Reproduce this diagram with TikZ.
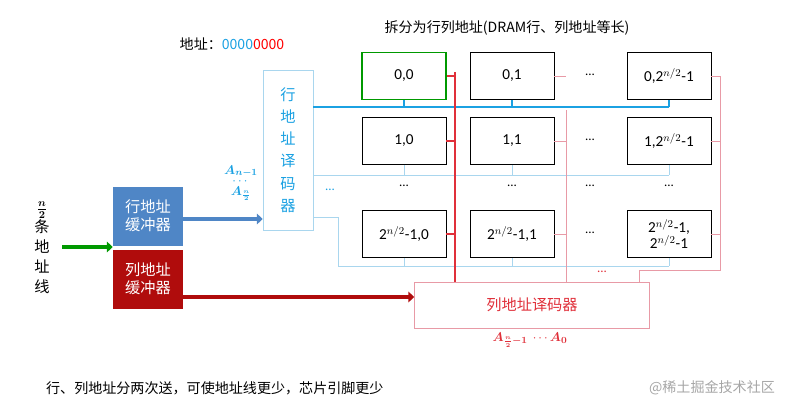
\documentclass[tikz,border=0pt]{standalone}
\usepackage{amsmath}
\usepackage{bm}
\usepackage{fontspec}
\setmainfont{Carlito}
\newfontfamily\cjk{Noto Sans CJK SC}
\usetikzlibrary{positioning,calc,arrows.meta}
\definecolor{rowblue}{HTML}{1BA1E2}
\definecolor{bufblue}{HTML}{4F86C6}
\definecolor{bufred}{HTML}{B00C0C}
\definecolor{colred}{HTML}{E0303A}
\definecolor{thinred}{HTML}{E89AA6}
\definecolor{thinblue}{HTML}{A9D6EE}

\begin{document}
\begin{tikzpicture}[x=0.03cm, y=-0.03cm,
    cell/.style={draw, thick, minimum width=84*0.03cm, minimum height=47*0.03cm, font=\fontsize{13}{15}\selectfont},
    buf/.style={minimum width=70*0.03cm, minimum height=59*0.03cm, text=white, align=center, font=\cjk\fontsize{13}{15}\selectfont},
    dots/.style={font=\fontsize{11}{12}\selectfont}
  ]
\useasboundingbox (0,0) rectangle (799,413);

% Titles
\node (addr) at (232,44) {\cjk\fontsize{12}{14}\selectfont 地址：\textcolor{rowblue}{0000}\textcolor{red}{0000}};
\node (title) at (507,28) {\cjk\fontsize{12}{14}\selectfont 拆分为行列地址(DRAM行、列地址等长)};

% Memory cells
\node[cell, draw=green!60!black, line width=1.6pt] (c00) at (404,76) {0,0};
\node[cell] (c01) at (512,76) {0,1};
\node[cell] (c0n) at (669,76) {0,2$^{n/2}$-1};
\node[cell] (c10) at (404,141) {1,0};
\node[cell] (c11) at (512,141) {1,1};
\node[cell] (c1n) at (669,141) {1,2$^{n/2}$-1};
\node[cell] (c30) at (404,234) {2$^{n/2}$-1,0};
\node[cell] (c31) at (512,234) {2$^{n/2}$-1,1};
\node[cell, align=center, font=\fontsize{13}{13}\selectfont] (c3n) at (669,234) {2$^{n/2}$-1,\\2$^{n/2}$-1};
\foreach \x/\n in {404/a, 512/b, 669/c} \node[dots] (rd\n) at (\x,186) {...};
\foreach \y/\n in {75/a, 140/b, 186/c, 233/d} \node[dots] (cd\n) at (590,\y) {...};

% Decoders and buffers
\node[draw=thinblue, minimum width=50*0.03cm, minimum height=160*0.03cm, text=rowblue, align=center,
  font=\cjk\fontsize{13}{19}\selectfont] (rdec) at (288,150) {行\\地\\址\\译\\码\\器};
\node[draw=thinred, minimum width=235*0.03cm, minimum height=46*0.03cm, text=colred,
  font=\cjk\fontsize{13}{15}\selectfont] (cdec) at (532,305) {列地址译码器};
\node[buf, fill=bufblue] (rbuf) at (148,216) {行地址\\缓冲器};
\node[buf, fill=bufred] (cbuf) at (148,279) {列地址\\缓冲器};
\node[align=center, font=\cjk\fontsize{13}{17}\selectfont] (lines) at (42,248) {$\bm{\frac{n}{2}}$\\条\\地\\址\\线};

% Labels
\node[text=rowblue, align=center, font=\fontsize{11}{11}\selectfont] (alab) at (241,183) {$\bm{A_{n-1}}$\\[-2pt]$\cdots$\\[-2pt]$\bm{A_{\frac{n}{2}}}$};
\node[text=colred, font=\fontsize{11}{12}\selectfont] (clab) at (530,340) {$\bm{A_{\frac{n}{2}-1}}\ \cdots\bm{A_0}$};
\node[dots, text=rowblue] (rdots) at (330,190) {...};
\node[dots, text=colred] (cdots) at (602,272) {...};

% Arrows
\draw[green!60!black, line width=4pt, -{Triangle[length=5pt, width=9pt]}] (62,247) -- (rbuf.west |- 0,247);
\draw[bufblue, line width=4pt, -{Triangle[length=5pt, width=9pt]}] (rbuf.east |- 0,219) -- (rdec.west |- 0,219);
\draw[bufred, line width=4pt, -{Triangle[length=5pt, width=9pt]}] (cbuf.east |- 0,297) -- (cdec.west |- 0,297);

% Row select lines
\coordinate (rb0) at (rdec.east |- 0,107);
\draw[rowblue, line width=2pt] (rb0) -- (c0n.south |- rb0);
\foreach \c in {c00, c01, c0n} \draw[rowblue, line width=2pt] (\c.south) -- (\c.south |- rb0);
\coordinate (rb1) at (rdec.east |- 0,175);
\draw[thinblue] (rb1) -- (c1n.south |- rb1);
\foreach \c in {c10, c11, c1n} \draw[thinblue] (\c.south) -- (\c.south |- rb1);
\coordinate (rb3) at (rdec.east |- 0,217);
\draw[thinblue] (rb3) -- (338,217) -- (338,266) -- (c3n.south |- 0,266);
\foreach \c in {c30, c31, c3n} \draw[thinblue] (\c.south) -- (\c.south |- 0,266);

% Column select lines
\coordinate (cb0) at (455,72);
\coordinate (cb1) at (566,110);
\coordinate (cb2) at (720,0);
\coordinate (cb3) at (639,270);
\draw[colred, line width=2pt] (cb0) -- (cb0 |- cdec.north);
\foreach \c in {c00, c10, c30} \draw[colred, line width=2pt] (\c.east) -- (cb0 |- \c.east);
\draw[thinred] (cb1) -- (cb1 |- cdec.north);
\foreach \c in {c01, c11, c31} \draw[thinred] (\c.east) -- (cb1 |- \c.east);
\draw[thinred] (c0n.east) -- (cb2 |- c0n.east) -- (cb2 |- cb3) -- (cb3) -- (cb3 |- cdec.north);
\foreach \c in {c1n, c3n} \draw[thinred] (\c.east) -- (cb2 |- \c.east);

% Notes
\node[anchor=west, font=\cjk\fontsize{12}{14}\selectfont] (note) at (42,388) {行、列地址分两次送，可使地址线更少，芯片引脚更少};
\node[text=gray!70, font=\cjk\fontsize{12}{14}\selectfont] (wm) at (712,388) {@稀土掘金技术社区};
\end{tikzpicture}
\end{document}
